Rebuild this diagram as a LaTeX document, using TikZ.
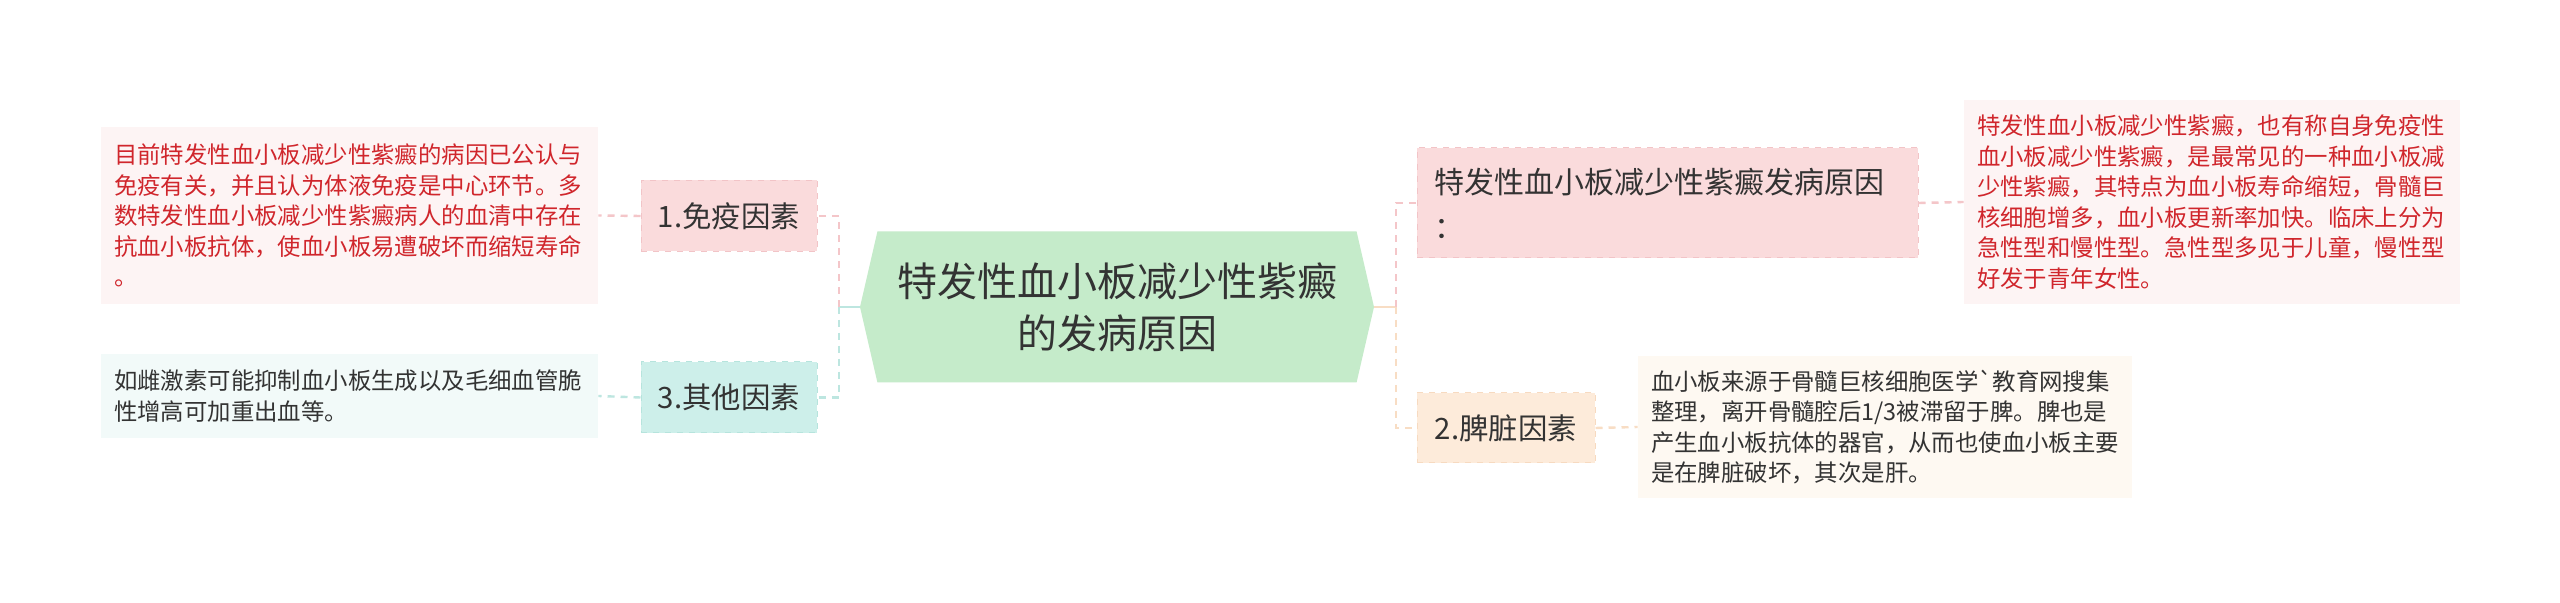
\documentclass[tikz,border=0pt]{standalone}
\usepackage{fontspec}
\setmainfont{Noto Sans CJK SC}
\usepackage{tikz}
\usetikzlibrary{shapes.symbols}

\definecolor{ink}{HTML}{333333}
\definecolor{notered}{HTML}{D0262C}
\definecolor{rootfill}{HTML}{C5EBCA}
\definecolor{pinkfill}{HTML}{FADBDC}
\definecolor{pinkedge}{HTML}{F2C4C7}
\definecolor{pinknote}{HTML}{FDF4F4}
\definecolor{pinkline}{HTML}{F4C6C9}
\definecolor{cyanfill}{HTML}{CDEFEA}
\definecolor{cyanedge}{HTML}{B6E4DD}
\definecolor{cyannote}{HTML}{F2FAF9}
\definecolor{cyanline}{HTML}{BDE6E0}
\definecolor{peachfill}{HTML}{FDEBDA}
\definecolor{peachedge}{HTML}{F7DAC0}
\definecolor{peachnote}{HTML}{FEF9F2}
\definecolor{peachline}{HTML}{F8DDC4}

\begin{document}
\begin{tikzpicture}[x=0.5pt, y=-0.5pt,
  tag/.style={draw, dashed, line width=0.5pt, minimum width=88pt,
    minimum height=35.5pt, inner sep=0pt, text=ink,
    font=\fontsize{14.7pt}{18pt}\selectfont},
  note/.style={inner sep=6.5pt, align=left,
    font=\fontsize{11.7pt}{15.3pt}\selectfont},
  link/.style={dash pattern=on 3.5pt off 3pt, line width=1.2pt}]
  \fill[white] (0,0) rectangle (2560,603);
  \useasboundingbox (0,0) rectangle (2560,603);

  \node[signal, signal to=west and east, signal pointer angle=154,
  fill=rootfill, minimum width=257pt, minimum height=75.5pt,
  inner sep=0pt, align=center, text=ink,
  font=\fontsize{20pt}{26pt}\selectfont] (root) at (1117,307)
  {特发性血小板减少性紫癜\\的发病原因};

  \node[tag, fill=pinkfill, draw=pinkedge] (immune) at (729,216) {1.免疫因素};
  \node[tag, fill=cyanfill, draw=cyanedge] (other) at (729,397.5) {3.其他因素};
  \node[note, fill=pinknote, text=notered, text width=235.5pt,
  minimum height=88.5pt] (immunenote) at (349.5,215.5)
  {目前特发性血小板减少性紫癜的病因已公认与\\免疫有关，并且认为体液免疫是中心环节。多\\数特发性血小板减少性紫癜病人的血清中存在\\抗血小板抗体，使血小板易遭破坏而缩短寿命\\。};
  \node[note, fill=cyannote, text=ink, text width=235.5pt,
  minimum height=42pt] (othernote) at (349.5,396)
  {如雌激素可能抑制血小板生成以及毛细血管脆\\性增高可加重出血等。};

  \node[tag, fill=pinkfill, draw=pinkedge, minimum width=250.5pt,
  minimum height=55pt, inner sep=8.5pt, text width=233.5pt, align=left,
  font=\fontsize{15pt}{22.5pt}\selectfont] (cause) at (1667.5,203)
  {特发性血小板减少性紫癜发病原因\\：};
  \node[tag, fill=peachfill, draw=peachedge, minimum width=89pt,
  minimum height=35pt] (spleen) at (1506,428) {2.脾脏因素};
  \node[note, fill=pinknote, text=notered, text width=235pt,
  minimum height=102pt] (causenote) at (2212,202)
  {特发性血小板减少性紫癜，也有称自身免疫性\\血小板减少性紫癜，是最常见的一种血小板减\\少性紫癜，其特点为血小板寿命缩短，骨髓巨\\核细胞增多，血小板更新率加快。临床上分为\\急性型和慢性型。急性型多见于儿童，慢性型\\好发于青年女性。};
  \node[note, fill=peachnote, text=ink, text width=234pt,
  minimum height=71pt] (spleennote) at (1885,427)
  {血小板来源于骨髓巨核细胞医学\textasciigrave 教育网搜集\\整理，离开骨髓腔后1/3被滞留于脾。脾也是\\产生血小板抗体的器官，从而也使血小板主要\\是在脾脏破坏，其次是肝。};

  \coordinate (ltrunk) at (839,307);
  \coordinate (rtrunk) at (1396,307);
  \draw[cyanline, line width=1.2pt] (root.west) -- (ltrunk);
  \draw[link, pinkline] (ltrunk) |- (immune.east);
  \draw[link, cyanline] (ltrunk) |- (other.east);
  \draw[link, pinkline] (immune.west) -- (immunenote.east);
  \draw[link, cyanline] (other.west) -- (othernote.east);
  \draw[peachline, line width=1.2pt] (root.east) -- (rtrunk);
  \draw[link, pinkline] (rtrunk) |- (cause.west);
  \draw[link, peachline] (rtrunk) |- (spleen.west);
  \draw[link, pinkline] (cause.east) -- (causenote.west);
  \draw[link, peachline] (spleen.east) -- (spleennote.west);
\end{tikzpicture}
\end{document}
